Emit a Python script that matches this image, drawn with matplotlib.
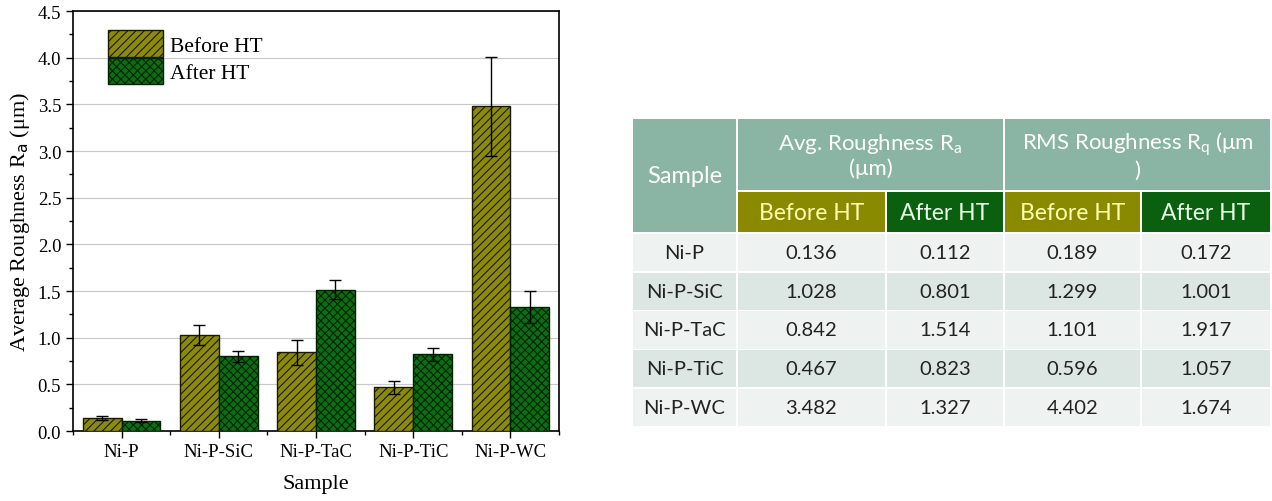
import numpy as np
import matplotlib.pyplot as plt
from matplotlib.patches import Rectangle
from matplotlib.ticker import MultipleLocator

samples = ["Ni-P", "Ni-P-SiC", "Ni-P-TaC", "Ni-P-TiC", "Ni-P-WC"]
ra_before = [0.136, 1.028, 0.842, 0.467, 3.482]
ra_after = [0.112, 0.801, 1.514, 0.823, 1.327]
rq_before = [0.189, 1.299, 1.101, 0.596, 4.402]
rq_after = [0.172, 1.001, 1.917, 1.057, 1.674]
err_before = [0.02, 0.105, 0.13, 0.07, 0.53]
err_after = [0.012, 0.06, 0.1, 0.07, 0.17]

olive = "#8c8a0c"
green = "#0b6e14"

plt.rcParams["hatch.linewidth"] = 0.8
fig = plt.figure(figsize=(12.72, 5.02), dpi=100)
ax = fig.add_axes([0.0574, 0.1394, 0.3821, 0.8366])

x = np.arange(len(samples))
w = 0.4
ax.bar(x - w/2, ra_before, w, color=olive, edgecolor="#1a1a00", hatch="////",
       linewidth=1, label="Before HT", zorder=3)
ax.bar(x + w/2, ra_after, w, color=green, edgecolor="#002200", hatch="xxxx",
       linewidth=1, label="After HT", zorder=3)
ax.errorbar(x - w/2, ra_before, yerr=err_before, fmt="none", ecolor="black",
            elinewidth=1, capsize=4, zorder=4)
ax.errorbar(x + w/2, ra_after, yerr=err_after, fmt="none", ecolor="black",
            elinewidth=1, capsize=4, zorder=4)

serif = "Liberation Serif"
ax.set_xlim(-0.5, 4.5)
ax.set_ylim(0, 4.5)
ax.set_xticks(x)
ax.set_xticklabels(samples, fontfamily=serif, fontsize=13.5)
ax.xaxis.set_minor_locator(MultipleLocator(0.5))
ax.yaxis.set_minor_locator(MultipleLocator(0.25))
yt = np.arange(0, 4.51, 0.5)
ax.set_yticks(yt)
ax.set_yticklabels([f"{v:.1f}" for v in yt], fontfamily=serif, fontsize=13.5)
ax.tick_params(which="major", direction="out", length=5, width=1)
ax.tick_params(which="minor", direction="out", length=3, width=1)
ax.grid(axis="y", which="major", color="#c8c8c8", linewidth=0.8, zorder=0)
ax.set_xlabel("Sample", fontfamily=serif, fontsize=16, labelpad=10)
ax.set_ylabel("Average Roughness R$_\\mathrm{a}$ (\u03bcm)", fontfamily=serif, fontsize=16)
for s in ax.spines.values():
    s.set_linewidth(1.2)
ax.legend(loc="upper left", bbox_to_anchor=(0.04, 0.99), frameon=False,
          prop={"family": serif, "size": 15.5}, handlelength=2.6, handleheight=1.5,
          labelspacing=0.05, handletextpad=0.3, borderaxespad=0.3)

# table
tax = fig.add_axes([0, 0, 1, 1])
tax.set_xlim(0, 1272)
tax.set_ylim(502, 0)
tax.axis("off")

cols = [632, 737, 886, 1004, 1141, 1271]
y_head = [119, 192, 234]
row_h = 38.8
teal = "#8ab5a5"
tfont = "Lato"
gap = 1.5

def cell(x0, x1, y0, y1, color):
    tax.add_patch(Rectangle((x0 + gap/2, y0 + gap/2), x1 - x0 - gap, y1 - y0 - gap,
                            facecolor=color, edgecolor="none"))

cell(cols[0], cols[1], y_head[0], y_head[2], teal)
tax.text((cols[0] + cols[1]) / 2, (y_head[0] + y_head[2]) / 2, "Sample", color="white",
         fontfamily=tfont, fontsize=17, ha="center", va="center")
cell(cols[1], cols[3], y_head[0], y_head[1], teal)
tax.text((cols[1] + cols[3]) / 2, (y_head[0] + y_head[1]) / 2,
         "Avg. Roughness R$_\\mathregular{a}$\n(\u03bcm)", color="white",
         fontfamily=tfont, fontsize=16, ha="center", va="center", linespacing=1.15)
cell(cols[3], cols[5], y_head[0], y_head[1], teal)
tax.text((cols[3] + cols[5]) / 2, (y_head[0] + y_head[1]) / 2,
         "RMS Roughness R$_\\mathregular{q}$ (\u03bcm\n)", color="white",
         fontfamily=tfont, fontsize=16, ha="center", va="center", linespacing=1.15)

sub_labels = ["Before HT", "After HT", "Before HT", "After HT"]
sub_colors = ["#8a8a00", "#0b600f", "#8a8a00", "#0b600f"]
sub_text = ["#ffffb0", "#e8ffe8", "#ffffb0", "#e8ffe8"]
for i in range(4):
    cell(cols[i + 1], cols[i + 2], y_head[1], y_head[2], sub_colors[i])
    tax.text((cols[i + 1] + cols[i + 2]) / 2, (y_head[1] + y_head[2]) / 2 + 1, sub_labels[i],
             color=sub_text[i], fontfamily=tfont, fontsize=16.5, ha="center", va="center")

row_colors = ["#eef3f1", "#dce6e2"]
for r, name in enumerate(samples):
    y0 = y_head[2] + r * row_h
    vals = [name, f"{ra_before[r]:.3f}", f"{ra_after[r]:.3f}",
            f"{rq_before[r]:.3f}", f"{rq_after[r]:.3f}"]
    for c in range(5):
        cell(cols[c], cols[c + 1], y0, y0 + row_h, row_colors[r % 2])
        tax.text((cols[c] + cols[c + 1]) / 2, y0 + row_h / 2, vals[c], color="#222222",
                 fontfamily=tfont, fontsize=14.5, ha="center", va="center")

fig.savefig("out.png", dpi=100)
